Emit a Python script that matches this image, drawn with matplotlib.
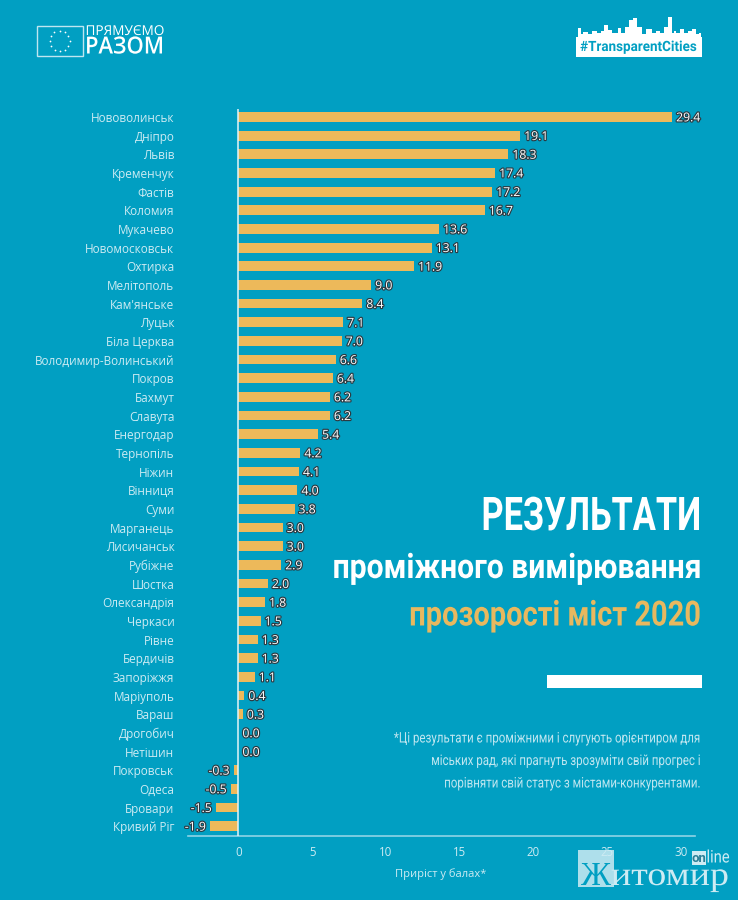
import matplotlib
matplotlib.use("Agg")
import matplotlib.pyplot as plt
import matplotlib.patheffects as pe
import numpy as np
from matplotlib.patches import Rectangle
from matplotlib.text import Text
from matplotlib.transforms import Affine2D, Bbox

cities = ["Нововолинськ", "Дніпро", "Львів", "Кременчук", "Фастів", "Коломия", "Мукачево",
          "Новомосковськ", "Охтирка", "Мелітополь", "Кам'янське", "Луцьк", "Біла Церква",
          "Володимир-Волинський", "Покров", "Бахмут", "Славута", "Енергодар", "Тернопіль",
          "Ніжин", "Вінниця", "Суми", "Марганець", "Лисичанськ", "Рубіжне", "Шостка",
          "Олександрія", "Черкаси", "Рівне", "Бердичів", "Запоріжжя", "Маріуполь", "Вараш",
          "Дрогобич", "Нетішин", "Покровськ", "Одеса", "Бровари", "Кривий Ріг"]
growth = [29.4, 19.1, 18.3, 17.4, 17.2, 16.7, 13.6, 13.1, 11.9, 9.0, 8.4, 7.1, 7.0, 6.6,
          6.4, 6.2, 6.2, 5.4, 4.2, 4.1, 4.0, 3.8, 3.0, 3.0, 2.9, 2.0, 1.8, 1.5, 1.3, 1.3,
          1.1, 0.4, 0.3, 0.0, 0.0, -0.3, -0.5, -1.5, -1.9]
x_ticks = [0, 5, 10, 15, 20, 25, 30]

BG = "#019FC2"
BAR = "#EDB95A"
LIGHT = "#CDEBF3"
SPINE = "#8FD3E6"
COND = ["Roboto", "DejaVu Sans"]
SERIF = ["Liberation Serif", "DejaVu Serif"]
W, H = 738, 900


class Squeeze(pe.AbstractPathEffect):
    """Scale text horizontally around a pixel x, no condensed font is installed."""

    def __init__(self, anchor, sx):
        super().__init__()
        self.anchor = anchor
        self.sx = sx

    def draw_path(self, renderer, gc, tpath, affine, rgbFace=None):
        squeeze = Affine2D().translate(-self.anchor, 0).scale(self.sx, 1).translate(self.anchor, 0)
        renderer.draw_path(gc, tpath, affine + squeeze, rgbFace)


class SqueezedText(Text):
    """Text whose reported extent follows the squeeze."""

    def __init__(self, x, y, s, sx, **kwargs):
        super().__init__(x, y, s, **kwargs)
        self.sx = sx
        self.set_path_effects([Squeeze(x, sx)])

    def get_window_extent(self, renderer=None, dpi=None):
        box = super().get_window_extent(renderer, dpi)
        a = self.get_position()[0]
        return Bbox([[a + (box.x0 - a) * self.sx, box.y0], [a + (box.x1 - a) * self.sx, box.y1]])


plt.rcParams["font.family"] = ["Open Sans", "DejaVu Sans"]

fig = plt.figure(figsize=(7.38, 9.0), dpi=100, facecolor=BG)

# chart axes, placed in pixels
left, right, top, bottom = 188, 695, 108.5, 835.5
ax = fig.add_axes([left / W, 1 - bottom / H, (right - left) / W, (bottom - top) / H], facecolor=BG)

y = np.arange(len(cities))
ax.barh(y, growth, height=0.53, color=BAR)
ax.set_ylim(len(cities) - 1 + 0.5, -0.45)
ax.set_xlim(-3.42, 30.95)

ax.set_xticks(x_ticks)
ax.set_yticks(y)
ax.set_yticklabels(cities)
ax.tick_params(axis="y", length=0, pad=9.8, labelsize=8.5, labelcolor=LIGHT)
ax.tick_params(axis="x", length=0, pad=7.5, labelsize=8.3, labelcolor=LIGHT)
ax.set_xlabel("Приріст у балах*", fontsize=8, color=LIGHT)
ax.xaxis.set_label_coords((441 - left) / (right - left), -(868 - bottom) / (bottom - top),
                          transform=ax.transAxes)

for name in ["top", "right", "left"]:
    ax.spines[name].set_visible(False)
ax.spines["bottom"].set_color(SPINE)
ax.spines["bottom"].set_linewidth(1.2)
ax.axvline(0, color="#E4F4F8", linewidth=1.1, zorder=3)

# value labels: white with dark outline
outline = [pe.withStroke(linewidth=1.7, foreground="#2B3A42")]
for yi, val in zip(y, growth):
    offset = 0.27 if val >= 0 else -0.3
    ha = "left" if val >= 0 else "right"
    ax.text(val + offset, yi + 0.05, f"{val:.1f}", ha=ha, va="center", fontsize=8.8,
            color="white", path_effects=outline, zorder=5, clip_on=False)

# overlay in pixel coordinates for logos and the text block
ov = fig.add_axes([0, 0, 1, 1], facecolor="none")
ov.set_xlim(0, W)
ov.set_ylim(H, 0)
ov.axis("off")


def squeezed(px, py, s, sx, **kwargs):
    # anchor is in pixels, overlay x and display x are the same at dpi 100
    t = SqueezedText(px, py, s, sx, transform=ov.transData, **kwargs)
    ov.add_artist(t)
    return t


# EU flag logo
ov.add_patch(Rectangle((36.5, 25.5), 46, 30, fill=False, edgecolor="#BFE6F0", linewidth=1))
angles = np.deg2rad(np.arange(0, 360, 30))
ov.scatter(59.5 + 10 * np.cos(angles), 41 + 10 * np.sin(angles), s=1.6, color="white", linewidths=0)
squeezed(85.5, 31.5, "ПРЯМУЄМО", 1.0, fontsize=9.8, color="white", va="center", ha="left")
squeezed(85, 47.5, "РАЗОМ", 0.93, fontsize=17, fontweight="semibold", color="white",
         va="center", ha="left")

# #TransparentCities badge with a skyline on top
ov.add_patch(Rectangle((575.5, 37), 126.5, 19.5, color="white", linewidth=0))
sky_x = [576, 578, 578, 581, 581, 583, 583, 588, 588, 592, 592, 597, 597, 601, 601, 604, 604,
         608, 608, 612, 612, 618, 618, 621, 621, 625, 625, 629, 629, 633, 633, 637, 637, 642,
         642, 646, 646, 652, 652, 656, 656, 660, 660, 664, 664, 668, 668, 672, 672, 674, 674,
         676, 676, 680, 680, 684, 684, 688, 688, 692, 692, 696, 696, 699, 699, 701, 701]
sky_y = [38, 38, 28, 28, 34, 34, 32, 32, 34, 34, 31, 31, 33, 33, 31, 31, 25, 25, 30, 30, 33,
         33, 28, 28, 33, 33, 27, 27, 20, 20, 18, 18, 27, 27, 34, 34, 29, 29, 33, 33, 31, 31,
         33, 33, 27, 27, 17, 17, 33, 33, 31, 31, 33, 33, 29, 29, 33, 33, 31, 31, 29, 29, 34,
         34, 33, 33, 38]
ov.fill(sky_x, sky_y, color="white", linewidth=0)
squeezed(638.5, 47, "#TransparentCities", 0.95, fontsize=10.2, color=BG, fontweight="bold",
         ha="center", va="center", family=COND)

# title block
squeezed(701, 517, "РЕЗУЛЬТАТИ", 0.74, fontsize=33.4, fontweight="bold", color="white",
         ha="right", va="center", family=COND)
squeezed(701, 569, "проміжного вимірювання", 0.88, fontsize=24.6, fontweight="bold", color="white",
         ha="right", va="center", family=COND)
squeezed(701, 616, "прозорості міст 2020", 0.836, fontsize=25, fontweight="bold", color="#E8B85F",
         ha="right", va="center", family=COND)
ov.add_patch(Rectangle((546.5, 675), 155.5, 13, color="white", linewidth=0))

# footnote
note = ["*Ці результати є проміжними і слугують орієнтиром для",
        "міських рад, які прагнуть зрозуміти свій прогрес і",
        "порівняти свій статус з містами-конкурентами."]
for line, ly in zip(note, [738.5, 761, 783.5]):
    squeezed(701, ly, line, 0.79, fontsize=10.5, color="#BFE6F0", ha="right", va="center", family=COND)

# watermark bottom right
ov.add_patch(Rectangle((577.5, 850), 36.5, 36.5, color=LIGHT, alpha=0.85, linewidth=0))
ov.text(595.8, 885, "Ж", fontsize=24, color=BG, ha="center", va="baseline", family=SERIF)
squeezed(729, 885, "итомир", 1.14, fontsize=24, color=LIGHT, ha="right", va="baseline", family=SERIF)
ov.add_patch(Rectangle((691.5, 851), 14.5, 14, color=LIGHT, linewidth=0))
ov.text(698.7, 858, "on", fontsize=9.5, fontweight="bold", color="#2A7F96", ha="center", va="center",
        family=COND)
squeezed(706.5, 858, "line", 0.85, fontsize=12.5, color=LIGHT, ha="left", va="center", family=COND)

fig.savefig("out.png", dpi=100, facecolor=BG)
plt.close(fig)
